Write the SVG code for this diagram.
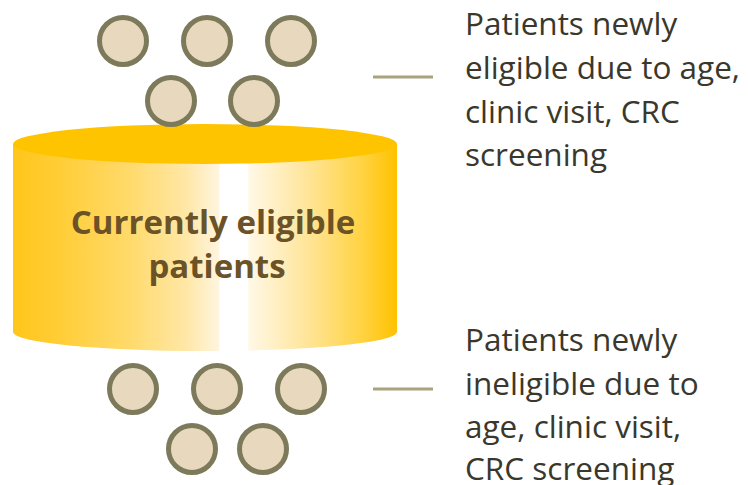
<svg xmlns="http://www.w3.org/2000/svg" width="748" height="485" viewBox="0 0 748 485">
  <style>
    .dot { fill: #E8D9BE; stroke: #7D7A5C; stroke-width: 5; }
    .lead { stroke: #A8A47E; stroke-width: 3; fill: none; }
    .note { font-family: "Open Sans", Lato, sans-serif; font-size: 31.5px; fill: #3A382C; }
    .title { font-family: "Open Sans", Lato, sans-serif; font-size: 33px; font-weight: bold; fill: #6B5227; text-anchor: middle; }
  </style>
  <defs>
    <linearGradient id="bodyFill" x1="13" y1="0" x2="397" y2="0" gradientUnits="userSpaceOnUse">
      <stop offset="0" stop-color="#FFC61A"/>
      <stop offset="0.12" stop-color="#FFCD36"/>
      <stop offset="0.3" stop-color="#FFDA6A"/>
      <stop offset="0.45" stop-color="#FFE7A6"/>
      <stop offset="0.535" stop-color="#FFF5DE"/>
      <stop offset="0.54" stop-color="#FFFFFF"/>
      <stop offset="0.61" stop-color="#FFFFFF"/>
      <stop offset="0.615" stop-color="#FFF8E6"/>
      <stop offset="0.75" stop-color="#FFE7A2"/>
      <stop offset="0.9" stop-color="#FFD448"/>
      <stop offset="1" stop-color="#FFC200"/>
    </linearGradient>
  </defs>

  <!-- Pool of currently eligible patients -->
  <g id="pool">
    <path d="M13,144 L13,332 A192,19 0 0 0 397,332 L397,144 Z" fill="url(#bodyFill)"/>
    <ellipse cx="205" cy="144" rx="192" ry="20" fill="#FFC400"/>
    <text class="title" x="213" y="234">Currently eligible</text>
    <text class="title" x="217" y="278">patients</text>
  </g>

  <!-- Incoming patients -->
  <g id="incoming">
    <circle class="dot" cx="123" cy="41" r="23.5"/>
    <circle class="dot" cx="207" cy="41" r="23.5"/>
    <circle class="dot" cx="291" cy="41" r="23.5"/>
    <circle class="dot" cx="171" cy="101" r="23.5"/>
    <circle class="dot" cx="254" cy="101" r="23.5"/>
  </g>

  <!-- Outgoing patients -->
  <g id="outgoing">
    <circle class="dot" cx="133" cy="389" r="23.5"/>
    <circle class="dot" cx="217" cy="389" r="23.5"/>
    <circle class="dot" cx="301" cy="389" r="23.5"/>
    <circle class="dot" cx="192" cy="449" r="23.5"/>
    <circle class="dot" cx="263" cy="449" r="23.5"/>
  </g>

  <!-- Leader lines to the notes -->
  <g id="connectors">
    <line class="lead" x1="373" y1="77" x2="433" y2="77"/>
    <line class="lead" x1="373" y1="389" x2="433" y2="389"/>
  </g>

  <g id="note-in">
    <text class="note" x="465" y="35">Patients newly</text>
    <text class="note" x="465" y="79">eligible due to age,</text>
    <text class="note" x="465" y="123">clinic visit, CRC</text>
    <text class="note" x="465" y="166">screening</text>
  </g>

  <g id="note-out">
    <text class="note" x="465" y="351">Patients newly</text>
    <text class="note" x="465" y="395">ineligible due to</text>
    <text class="note" x="465" y="438">age, clinic visit,</text>
    <text class="note" x="465" y="480">CRC screening</text>
  </g>
</svg>
